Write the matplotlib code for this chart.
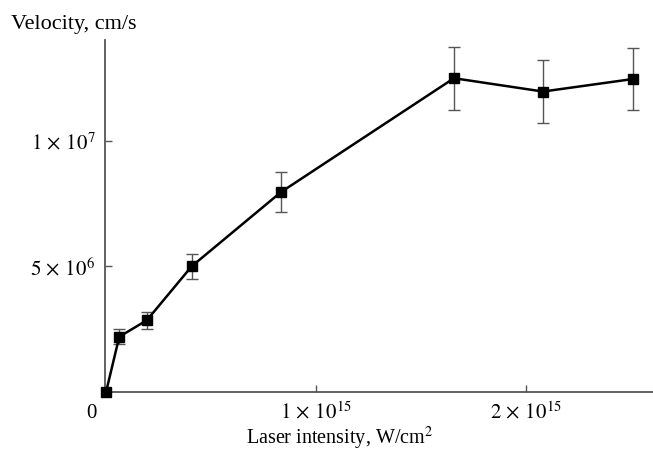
import matplotlib
matplotlib.use("Agg")
import matplotlib.pyplot as plt

plt.rcParams['font.family'] = ['Liberation Serif', 'DejaVu Serif']
plt.rcParams['mathtext.fontset'] = 'stix'

# Data (x in W/cm^2, y in cm/s)
intensity = [0.0, 0.063e15, 0.194e15, 0.408e15, 0.833e15, 1.657e15, 2.081e15, 2.511e15]
velocity = [0.0, 2.2e6, 2.85e6, 5.0e6, 7.95e6, 12.48e6, 11.95e6, 12.45e6]
velocity_err = [0.0, 0.3e6, 0.35e6, 0.5e6, 0.8e6, 1.25e6, 1.25e6, 1.25e6]

x_ticks = [1e15, 2e15]
x_tick_labels = [r'$1\,\times\,10^{15}$', r'$2\,\times\,10^{15}$']
y_ticks = [5e6, 1e7]
y_tick_labels = [r'$5\,\times\,10^{6}$', r'$1\,\times\,10^{7}$']

W, H = 653, 462
fig = plt.figure(figsize=(W / 100, H / 100), dpi=100)
ax = fig.add_axes([105 / W, 1 - 392 / H, (653 - 105) / W, (392 - 40) / H])

ax.errorbar(intensity, velocity, yerr=velocity_err, fmt='none', ecolor='#555555',
            elinewidth=1.0, capsize=4.5, capthick=1.0, zorder=2)
ax.plot(intensity, velocity, color='black', linewidth=1.8, marker='s',
        markersize=7.5, markerfacecolor='black', markeredgecolor='black', zorder=3,
        clip_on=False)

ax.set_xlim(-0.005e15, 2.605e15)
ax.set_ylim(0, 14e6)

for s in ['top', 'right']:
    ax.spines[s].set_visible(False)
for s in ['left', 'bottom']:
    ax.spines[s].set_color('#555555')
    ax.spines[s].set_linewidth(1.3)

ax.set_xticks(x_ticks)
ax.set_xticklabels(x_tick_labels, fontsize=15)
ax.set_yticks(y_ticks)
ax.set_yticklabels(y_tick_labels, fontsize=15)
ax.tick_params(direction='in', length=5, width=1.0, color='#555555', pad=7)

ax.text(-0.015, -0.035, '0', transform=ax.transAxes, ha='right', va='top', fontsize=15)

fig.text(11 / W, 1 - 25 / H, 'Velocity, cm/s', ha='left', va='center', fontsize=16)
fig.text(340 / W, 1 - 438 / H, r'Laser intensity, W/cm$^2$', ha='center', va='center', fontsize=14.5)

fig.savefig('out.png', dpi=100)
